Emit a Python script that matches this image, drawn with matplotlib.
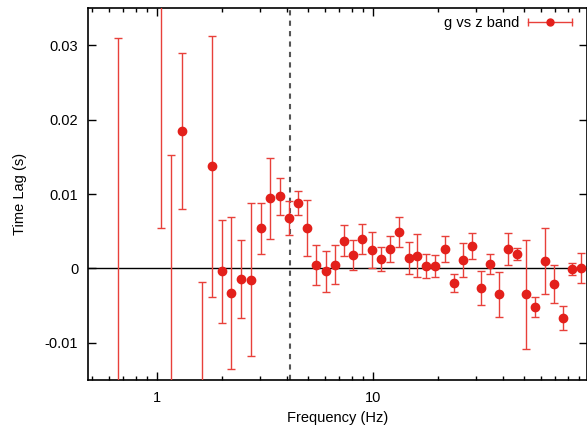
import numpy as np
import matplotlib
matplotlib.use("Agg")
import matplotlib.pyplot as plt
from matplotlib.lines import Line2D
from matplotlib.legend_handler import HandlerLine2D
from matplotlib.ticker import FixedLocator, FuncFormatter, LogLocator, NullFormatter

plt.rcParams['font.family'] = ['Liberation Sans', 'DejaVu Sans']

# ---- data (frequency in Hz, lag in s, half error) ----
freq = [0.662, 1.047, 1.161, 1.306, 1.626, 1.803, 2.006, 2.215, 2.447, 2.72,
        3.02, 3.35, 3.70, 4.10, 4.51, 4.98, 5.48, 6.05, 6.69, 7.36,
        8.13, 8.95, 9.89, 10.93, 12.03, 13.24, 14.62, 16.09, 17.71, 19.49,
        21.54, 23.71, 26.10, 28.73, 31.72, 34.91, 38.43, 42.31, 46.70, 51.4,
        56.6, 62.3, 68.9, 75.8, 83.4, 91.8]
lag = [-0.025, 0.045, -0.020, 0.0185, -0.020, 0.0137, -0.0004, -0.0033, -0.0014, -0.0015,
       0.0054, 0.0094, 0.0097, 0.0068, 0.0088, 0.0054, 0.0005, -0.0004, 0.0005, 0.0037,
       0.0018, 0.0040, 0.0025, 0.0013, 0.0026, 0.0049, 0.0014, 0.0017, 0.0003, 0.0003,
       0.0026, -0.0020, 0.0011, 0.0030, -0.0026, 0.0006, -0.0035, 0.0026, 0.0019, -0.0035,
       -0.0052, 0.0010, -0.0021, -0.0067, -0.0001, 0.0001]
lag_err = [0.056, 0.0396, 0.0352, 0.0105, 0.0182, 0.0175, 0.0069, 0.0102, 0.0052, 0.0103,
           0.0034, 0.0055, 0.0025, 0.0023, 0.0016, 0.0038, 0.0027, 0.0028, 0.0026, 0.0021,
           0.0020, 0.0020, 0.0024, 0.0016, 0.0017, 0.0020, 0.0021, 0.0029, 0.0016, 0.0015,
           0.0018, 0.0012, 0.0023, 0.0018, 0.0023, 0.0013, 0.0030, 0.0021, 0.0008, 0.0073,
           0.0013, 0.0044, 0.0025, 0.0016, 0.0008, 0.0020]
cut_freq = 4.14
yticks = [-0.01, 0, 0.01, 0.02, 0.03]
ytick_labels = ['-0.01', '0', '0.01', '0.02', '0.03']

red = '#e3201b'
bar_red = '#e8403a'

fig = plt.figure(figsize=(5.87, 4.29), dpi=100)
ax = fig.add_axes([88/587, 1-380/429, 1-88/587, (380-8)/429])

ax.errorbar(freq, lag, yerr=lag_err, fmt='o', color=red, ecolor=bar_red, elinewidth=1.0,
            capsize=3, capthick=1.0, markersize=6, zorder=3)
ax.axhline(0, color='black', lw=1, zorder=2)
ax.axvline(cut_freq, color='#555555', lw=1.5, ls=(0, (2.5, 2.5)), zorder=2)

ax.set_xscale('log')
ax.set_xlim(0.48, 98)
ax.set_ylim(-0.015, 0.035)
ax.xaxis.set_major_locator(FixedLocator([1, 10, 100]))
ax.xaxis.set_major_formatter(FuncFormatter(lambda v, p: '%g' % v))
ax.xaxis.set_minor_locator(LogLocator(base=10, subs=np.arange(2, 10)))
ax.xaxis.set_minor_formatter(NullFormatter())
ax.yaxis.set_major_locator(FixedLocator(yticks))
ax.set_yticklabels(ytick_labels)

ax.tick_params(which='both', direction='in', top=True, right=True, labelsize=10.5)
ax.tick_params(which='major', length=6, width=1)
ax.tick_params(which='minor', length=3, width=1)
ax.tick_params(axis='x', pad=8)
ax.tick_params(axis='y', pad=7)
for s in ax.spines.values():
    s.set_linewidth(1.2)

ax.set_xlabel('Frequency (Hz)', fontsize=10.5)
ax.set_ylabel('Time Lag (s)', fontsize=10.5, labelpad=13)

# legend key drawn as a horizontal error bar, like the gnuplot key
bar_line = Line2D([], [], color=bar_red, lw=1.0, marker='o', markersize=5,
                  markerfacecolor=red, markeredgecolor=red)
bar_caps = Line2D([], [], color=bar_red, lw=0, marker='|', markersize=6, markeredgewidth=1.0)
ax.legend([(bar_line, bar_caps)], ['g vs z band'], loc='upper right',
          bbox_to_anchor=((572-88)/499, (380-16)/372), frameon=False,
          markerfirst=False, fontsize=10.5, handlelength=3, handletextpad=0.6,
          borderpad=0, borderaxespad=0,
          handler_map={bar_caps: HandlerLine2D(numpoints=2, marker_pad=0)})

fig.savefig('out.png', dpi=100)
